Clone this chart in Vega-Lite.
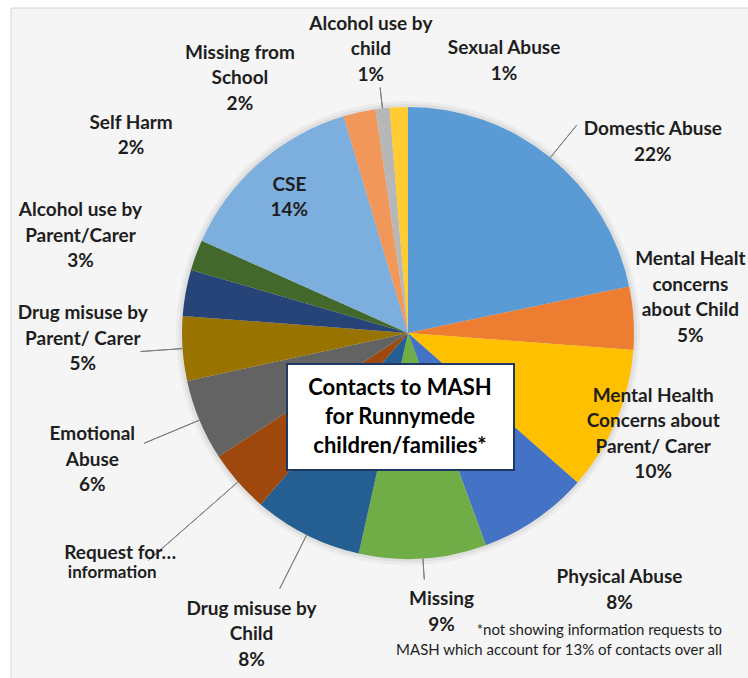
{
  "$schema": "https://vega.github.io/schema/vega-lite/v6.json",
  "width": 794,
  "height": 650,
  "autosize": "none",
  "padding": {"left": 11, "top": 8, "right": 0, "bottom": 20},
  "background": "white",
  "config": {
    "view": {"stroke": null},
    "text": {"font": "Lato", "fontWeight": "bold", "fontSize": 19, "lineHeight": 25.5, "lineBreak": "\n", "color": "#1e1e1e"}
  },
  "layer": [
    {
      "data": {"values": [{"frame": 1}]},
      "mark": {"type": "rect", "fill": "#f5f5f5", "stroke": "#d6d6d6", "strokeWidth": 1},
      "encoding": {"y": {"value": 0}, "y2": {"value": {"expr": "height + 21"}}}
    },
    {
      "data": {
        "values": [
          {"n": 1, "cat": "Domestic Abuse", "value": 21.7, "label": "Domestic Abuse\n22%"},
          {"n": 2, "cat": "Mental Health concerns about Child", "value": 4.5, "label": "Mental Healt\nconcerns\nabout Child\n5%"},
          {"n": 3, "cat": "Mental Health Concerns about Parent/ Carer", "value": 10.3, "label": "Mental Health\nConcerns about\nParent/ Carer\n10%"},
          {"n": 4, "cat": "Physical Abuse", "value": 7.9, "label": "Physical Abuse\n8%"},
          {"n": 5, "cat": "Missing", "value": 9.1, "label": "Missing\n9%"},
          {"n": 6, "cat": "Drug misuse by Child", "value": 7.8, "label": "Drug misuse by\nChild\n8%"},
          {"n": 7, "cat": "Request for information", "value": 4.5, "label": "Request for…", "sub": "information"},
          {"n": 8, "cat": "Emotional Abuse", "value": 5.8, "label": "Emotional\nAbuse\n6%"},
          {"n": 9, "cat": "Drug misuse by Parent/ Carer", "value": 4.6, "label": "Drug misuse by\nParent/ Carer\n5%"},
          {"n": 10, "cat": "Alcohol use by Parent/Carer", "value": 3.3, "label": "Alcohol use by\nParent/Carer\n3%"},
          {"n": 11, "cat": "Self Harm", "value": 2.2, "label": "Self Harm\n2%"},
          {"n": 12, "cat": "CSE", "value": 13.7, "label": "CSE\n14%"},
          {"n": 13, "cat": "Missing from School", "value": 2.3, "label": "Missing from\nSchool\n2%"},
          {"n": 14, "cat": "Alcohol use by child", "value": 1.0, "label": "Alcohol use by\nchild\n1%"},
          {"n": 15, "cat": "Sexual Abuse", "value": 1.3, "label": "Sexual Abuse\n1%"}
        ]
      },
      "encoding": {
        "theta": {"field": "value", "type": "quantitative", "stack": true},
        "order": {"field": "n", "type": "quantitative"},
        "detail": {"field": "cat", "type": "nominal"}
      },
      "layer": [
        {"mark": {"type": "arc", "outerRadius": 232, "fill": "#000000", "opacity": 0.04}},
        {"mark": {"type": "arc", "outerRadius": 229, "fill": "#000000", "opacity": 0.05}},
        {
          "mark": {"type": "arc", "outerRadius": 226},
          "encoding": {
            "color": {
              "field": "cat", "type": "nominal", "legend": null,
              "scale": {
                "domain": ["Domestic Abuse", "Mental Health concerns about Child", "Mental Health Concerns about Parent/ Carer", "Physical Abuse", "Missing", "Drug misuse by Child", "Request for information", "Emotional Abuse", "Drug misuse by Parent/ Carer", "Alcohol use by Parent/Carer", "Self Harm", "CSE", "Missing from School", "Alcohol use by child", "Sexual Abuse"],
                "range": ["#5B9BD5", "#ED7D31", "#FFC000", "#4472C4", "#70AD47", "#255E91", "#9E480E", "#636363", "#997300", "#264478", "#43682B", "#7CAFDD", "#F1975A", "#B7B7B7", "#FFCD33"]
              }
            }
          }
        },
        {
          "mark": {"type": "arc", "innerRadius": 226, "outerRadius": 247, "padAngle": 3, "fillOpacity": 0, "stroke": "#7f7f7f", "strokeWidth": 1},
          "encoding": {"strokeOpacity": {"condition": {"test": "datum.n === 5 || datum.n === 14", "value": 1}, "value": 0}}
        },
        {
          "mark": {"type": "arc", "innerRadius": 226, "outerRadius": 268, "padAngle": 3, "fillOpacity": 0, "stroke": "#7f7f7f", "strokeWidth": 1},
          "encoding": {"strokeOpacity": {"condition": {"test": "datum.n === 1 || datum.n === 9", "value": 1}, "value": 0}}
        },
        {
          "mark": {"type": "arc", "innerRadius": 226, "outerRadius": 286, "padAngle": 3, "fillOpacity": 0, "stroke": "#7f7f7f", "strokeWidth": 1},
          "encoding": {"strokeOpacity": {"condition": {"test": "datum.n === 6 || datum.n === 8", "value": 1}, "value": 0}}
        },
        {
          "mark": {"type": "arc", "innerRadius": 226, "outerRadius": 345, "padAngle": 3, "fillOpacity": 0, "stroke": "#7f7f7f", "strokeWidth": 1},
          "encoding": {"strokeOpacity": {"condition": {"test": "datum.n === 7", "value": 1}, "value": 0}}
        },
        {"mark": {"type": "text", "radius": 287, "dx": 64, "dy": 19}, "encoding": {"text": {"condition": {"test": "datum.n === 1", "field": "label"}, "value": ""}}},
        {"mark": {"type": "text", "radius": 284, "dx": -1, "dy": -55}, "encoding": {"text": {"condition": {"test": "datum.n === 2", "field": "label"}, "value": ""}}},
        {"mark": {"type": "text", "radius": 265, "dx": 1, "dy": -40}, "encoding": {"text": {"condition": {"test": "datum.n === 3", "field": "label"}, "value": ""}}},
        {"mark": {"type": "text", "radius": 332, "dx": 24, "dy": -30}, "encoding": {"text": {"condition": {"test": "datum.n === 4", "field": "label"}, "value": ""}}},
        {"mark": {"type": "text", "radius": 281, "dx": 15, "dy": -14}, "encoding": {"text": {"condition": {"test": "datum.n === 5", "field": "label"}, "value": ""}}},
        {"mark": {"type": "text", "radius": 340, "dx": -4, "dy": -28}, "encoding": {"text": {"condition": {"test": "datum.n === 6", "field": "label"}, "value": ""}}},
        {"mark": {"type": "text", "radius": 360, "dx": -17, "dy": -17}, "encoding": {"text": {"condition": {"test": "datum.n === 7", "field": "label"}, "value": ""}}},
        {"mark": {"type": "text", "radius": 360, "dx": -25, "dy": 3, "fontSize": 17}, "encoding": {"text": {"condition": {"test": "datum.n === 7", "field": "sub"}, "value": ""}}},
        {"mark": {"type": "text", "radius": 340, "dx": -2, "dy": -30}, "encoding": {"text": {"condition": {"test": "datum.n === 8", "field": "label"}, "value": ""}}},
        {"mark": {"type": "text", "radius": 325, "dx": -1, "dy": -42}, "encoding": {"text": {"condition": {"test": "datum.n === 9", "field": "label"}, "value": ""}}},
        {"mark": {"type": "text", "radius": 340, "dx": 7, "dy": -62}, "encoding": {"text": {"condition": {"test": "datum.n === 10", "field": "label"}, "value": ""}}},
        {"mark": {"type": "text", "radius": 328, "dx": 31, "dy": -97}, "encoding": {"text": {"condition": {"test": "datum.n === 11", "field": "label"}, "value": ""}}},
        {"mark": {"type": "text", "radius": 180, "dx": 0, "dy": -13}, "encoding": {"text": {"condition": {"test": "datum.n === 12", "field": "label"}, "value": ""}}},
        {"mark": {"type": "text", "radius": 284, "dx": -107, "dy": -3}, "encoding": {"text": {"condition": {"test": "datum.n === 13", "field": "label"}, "value": ""}}},
        {"mark": {"type": "text", "radius": 285, "dx": -5, "dy": -26}, "encoding": {"text": {"condition": {"test": "datum.n === 14", "field": "label"}, "value": ""}}},
        {"mark": {"type": "text", "radius": 268, "dx": 107, "dy": -17}, "encoding": {"text": {"condition": {"test": "datum.n === 15", "field": "label"}, "value": ""}}}
      ]
    },
    {
      "data": {"values": [{"box": "Contacts to MASH\nfor Runnymede\nchildren/families*"}]},
      "layer": [
        {"mark": {"type": "point", "shape": "M-2.42,0.62H2.12V2.74H-2.42Z", "size": 10000, "filled": true, "fill": "white", "stroke": "#1f3864", "strokeWidth": 2, "opacity": 1}, "encoding": {}},
        {"mark": {"type": "text", "fontSize": 22, "lineHeight": 29, "dx": -8, "dy": 55, "color": "#000000"}, "encoding": {"text": {"field": "box"}}}
      ]
    },
    {
      "data": {"values": [{"note": "*not showing information requests to\nMASH which account for 13% of contacts over all"}]},
      "mark": {"type": "text", "fontWeight": "normal", "fontSize": 15, "lineHeight": 20, "align": "right", "dx": 314, "dy": 297},
      "encoding": {"text": {"field": "note"}}
    }
  ]
}
